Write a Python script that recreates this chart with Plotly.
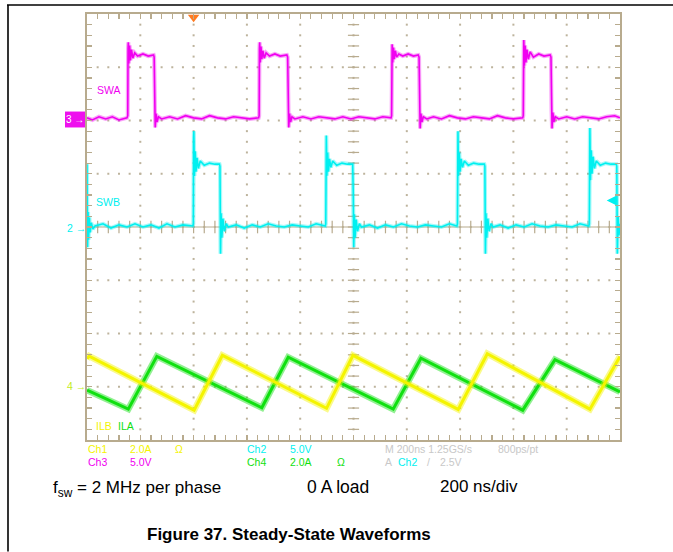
import numpy as np
import plotly.graph_objects as go

# ---------------- data read from the scope capture ----------------
# time axis: 200 ns/div, 10 div  -> 0 .. 2000 ns ; vertical: 8 div
T_DIV_NS = 200.0
N_XDIV = 10
N_YDIV = 8

# channel scale (units per div) and screen offset (div)
SWA_SCALE, SWA_OFFSET = 5.0, 2.03   # Ch3, V/div
SWB_SCALE, SWB_OFFSET = 5.0, 0.0    # Ch2, V/div
ILA_SCALE, ILA_OFFSET = 2.0, -3.0   # Ch4, A/div
ILB_SCALE, ILB_OFFSET = 2.0, -3.0   # Ch1, A/div

# SWA (Ch3) switch-node voltage, ns / V
swa_t = [0, 20, 45, 70, 95, 120, 150,
         153, 154, 155, 157, 160, 163, 167, 172, 179, 190, 210, 230, 250,
         252, 254, 256, 259, 263, 268, 280,
         310, 340, 370, 400, 430, 460, 490, 520, 550, 580, 610, 644,
         646, 647, 648, 650, 653, 656, 660, 665, 672, 685, 705, 725, 750,
         753, 755, 757, 760, 764, 769, 780,
         810, 840, 870, 900, 930, 960, 990, 1020, 1050, 1080, 1110, 1141,
         1143, 1144, 1145, 1147, 1150, 1153, 1157, 1162, 1170, 1185, 1205, 1225, 1243,
         1246, 1248, 1250, 1253, 1257, 1262, 1275,
         1300, 1330, 1360, 1390, 1420, 1450, 1480, 1510, 1540, 1570, 1600, 1635,
         1637, 1638, 1639, 1641, 1644, 1647, 1651, 1656, 1663, 1675, 1695, 1715, 1738,
         1741, 1743, 1745, 1748, 1752, 1757, 1770,
         1800, 1830, 1860, 1890, 1920, 1950, 1980, 2000]
swa_v = [0.1, -0.1, 0.2, 0.0, 0.2, -0.1, 0.1,
         0.3, 6.6, 7.2, 5.2, 6.9, 5.5, 6.5, 5.7, 6.2, 5.9, 6.1, 5.9, 6.0,
         5.8, 0.8, -0.8, 0.5, -0.3, 0.2, 0.0,
         0.2, 0.0, 0.3, 0.1, 0.0, 0.3, 0.1, 0.0, 0.2, 0.1, 0.0, 0.1,
         0.3, 6.6, 7.2, 5.3, 6.8, 5.6, 6.4, 5.7, 6.2, 5.9, 6.1, 5.9, 6.0,
         5.8, 0.8, -0.8, 0.5, -0.3, 0.2, 0.0,
         0.2, 0.0, 0.2, 0.1, 0.0, 0.2, 0.0, 0.2, 0.1, 0.0, 0.2, 0.1,
         0.3, 6.5, 7.0, 5.3, 6.7, 5.6, 6.4, 5.8, 6.1, 5.9, 6.1, 5.9, 6.0,
         5.8, 0.8, -0.9, 0.5, -0.3, 0.2, 0.0,
         0.2, 0.0, 0.3, 0.1, 0.0, 0.2, 0.1, 0.0, 0.3, 0.1, 0.0, 0.1,
         0.3, 6.8, 7.4, 5.0, 6.9, 5.3, 6.5, 5.6, 6.3, 5.8, 6.1, 5.9, 6.0,
         5.8, 0.8, -0.9, 0.6, -0.3, 0.2, 0.0,
         0.2, 0.0, 0.2, 0.1, 0.0, 0.2, 0.3, 0.1]

# SWB (Ch2) switch-node voltage, ns / V
swb_t = [0, 1, 2, 4, 6, 9, 12, 16, 22, 30,
         60, 90, 120, 150, 180, 210, 240, 270, 300, 330, 360, 397,
         399, 400, 401, 403, 406, 409, 413, 418, 425, 440, 460, 480, 497,
         499, 500, 501, 503, 506, 510, 515, 522, 530,
         560, 590, 620, 650, 680, 710, 740, 770, 800, 830, 860, 894,
         896, 897, 898, 900, 903, 906, 910, 915, 922, 937, 957, 977, 995,
         997, 999, 1001, 1003, 1006, 1010, 1015, 1022, 1030,
         1060, 1090, 1120, 1150, 1180, 1210, 1240, 1270, 1300, 1330, 1360, 1388,
         1390, 1391, 1392, 1394, 1397, 1400, 1404, 1409, 1416, 1431, 1451, 1471, 1491,
         1493, 1494, 1495, 1497, 1500, 1504, 1509, 1516, 1524,
         1550, 1580, 1610, 1640, 1670, 1700, 1730, 1760, 1790, 1820, 1850, 1883,
         1885, 1886, 1887, 1889, 1892, 1895, 1899, 1904, 1911, 1926, 1946, 1966, 1986,
         1988, 1989, 1990, 1993, 1996, 2000]
swb_v = [5.9, 2.0, -1.9, 1.4, -1.2, 0.9, -0.5, 0.4, -0.2, 0.1,
         0.3, -0.1, 0.2, 0.0, 0.3, 0.0, 0.2, -0.1, 0.3, 0.0, 0.2, 0.1,
         0.3, 8.4, 9.0, 4.8, 7.1, 5.2, 6.5, 5.5, 6.2, 5.8, 6.0, 5.9, 5.9,
         5.7, 1.0, -2.5, 1.3, -1.0, 0.8, -0.4, 0.3, 0.0,
         0.2, -0.1, 0.2, 0.0, 0.3, 0.1, 0.0, 0.2, 0.1, 0.0, 0.3, 0.1,
         0.3, 8.0, 8.6, 4.8, 7.0, 5.2, 6.4, 5.6, 6.2, 5.8, 6.0, 5.9, 5.9,
         5.9, 3.3, -1.9, 1.2, -1.0, 0.7, -0.4, 0.3, 0.0,
         0.2, -0.1, 0.2, 0.0, 0.3, 0.1, 0.0, 0.2, 0.1, 0.0, 0.3, 0.1,
         0.3, 8.4, 9.0, 4.8, 7.0, 5.2, 6.4, 5.6, 6.2, 5.8, 6.0, 5.9, 5.9,
         5.7, 1.0, -2.5, 1.3, -1.0, 0.8, -0.4, 0.3, 0.0,
         0.2, -0.1, 0.2, 0.0, 0.3, 0.1, 0.0, 0.2, 0.1, 0.0, 0.3, 0.1,
         0.3, 8.8, 9.3, 4.4, 7.2, 5.0, 6.6, 5.5, 6.2, 5.8, 6.0, 5.9, 5.9,
         5.7, 1.0, -2.5, 1.0, -0.8, 0.3]

# inductor currents, ns / A (triangle vertices)
ila_t = [0, 155, 262, 656, 755, 1149, 1253, 1635, 1756, 2000]
ila_a = [-0.13, -0.84, 1.14, -0.79, 1.11, -0.84, 1.07, -0.88, 1.02, -0.19]
ilb_t = [0, 8, 402, 508, 899, 998, 1393, 1502, 1887, 2000]
ilb_a = [1.05, 1.15, -0.88, 1.18, -0.81, 1.18, -0.85, 1.24, -0.84, 1.14]

TRIGGER_T = 400       # ns (trigger marker position)
TRIGGER_LEVEL = 2.5   # V on Ch2

# ---------------- styling ----------------
W, H = 673, 552
PL, PR, PT, PB = 87, 620, 12, 440
GRID = "#b8ab8e"
DOT = "#bdb39c"
C_MAG = "#f000f0"
C_CYN = "#00f0f0"
C_YEL = "#f4f400"
C_GRN = "#10e010"
C_GRAY = "#c8c8c8"
SCOPE_FONT = "Liberation Sans, Arial, sans-serif"
CAP_FONT = "Liberation Sans, Arial, Helvetica, sans-serif"


def px(x):
    return (x - PL) / (PR - PL)


def py(y):
    return (PB - y) / (PB - PT)


def to_div(vals, scale, offset):
    return [offset + v / scale for v in vals]


fig = go.Figure()

# dotted graticule
xmaj = [T_DIV_NS * i for i in range(1, N_XDIV)]
ymaj = [j - N_YDIV / 2 for j in range(1, N_YDIV)]
yminor = np.arange(-N_YDIV / 2 + 0.2, N_YDIV / 2 - 0.1, 0.2)
xminor = np.arange(T_DIV_NS / 5, T_DIV_NS * N_XDIV - 1, T_DIV_NS / 5)
gx, gy = [], []
for xv in xmaj:
    gx += [xv] * len(yminor)
    gy += list(yminor)
for yv in ymaj:
    gx += list(xminor)
    gy += [yv] * len(xminor)
fig.add_trace(go.Scatter(x=gx, y=gy, mode="markers", hoverinfo="skip",
                         marker=dict(symbol="square", size=2, color=DOT, line=dict(width=0))))

# centre cross-hair ticks
xc = T_DIV_NS * N_XDIV / 2
fig.add_trace(go.Scatter(x=list(xminor), y=[0] * len(xminor), mode="markers", hoverinfo="skip",
                         marker=dict(symbol="line-ns", size=9, line=dict(color=GRID, width=1.2))))
fig.add_trace(go.Scatter(x=[xc] * len(yminor), y=list(yminor), mode="markers", hoverinfo="skip",
                         marker=dict(symbol="line-ew", size=8, line=dict(color=GRID, width=1.2))))
fig.add_shape(type="line", x0=0, x1=T_DIV_NS * N_XDIV, y0=0, y1=0,
              line=dict(color=GRID, width=1.2), layer="below")


def add_wave(t, y, color, core, band, band_op):
    fig.add_trace(go.Scatter(x=t, y=y, mode="lines", hoverinfo="skip", opacity=band_op,
                             line=dict(color=color, width=band)))
    fig.add_trace(go.Scatter(x=t, y=y, mode="lines", hoverinfo="skip",
                             line=dict(color=color, width=core)))


add_wave(ila_t, to_div(ila_a, ILA_SCALE, ILA_OFFSET), C_GRN, 3, 6.5, 0.45)
add_wave(ilb_t, to_div(ilb_a, ILB_SCALE, ILB_OFFSET), C_YEL, 3, 6.5, 0.45)
add_wave(swa_t, to_div(swa_v, SWA_SCALE, SWA_OFFSET), C_MAG, 1.6, 4, 0.35)
add_wave(swb_t, to_div(swb_v, SWB_SCALE, SWB_OFFSET), C_CYN, 1.6, 4, 0.35)

# trigger position marker
fig.add_trace(go.Scatter(x=[TRIGGER_T], y=[3.94], mode="markers", hoverinfo="skip", cliponaxis=False,
                         marker=dict(symbol="triangle-down", size=10, color="#ff7a20", line=dict(width=0))))

annotations = []


def label(text, x, y, color, size=10.5, anchor="left", font=SCOPE_FONT, **kw):
    annotations.append(dict(text=text, x=px(x), y=py(y), xref="paper", yref="paper",
                            xanchor=anchor, yanchor="middle", showarrow=False,
                            font=dict(family=font, size=size, color=color), **kw))


# trace labels
label("SWA", 95, 88, C_MAG)
label("SWB", 94, 201, C_CYN)
label("ILB", 94, 426, C_YEL)
label("ILA", 116, 426, C_GRN)

# channel ground markers
label("3 <b>→</b>", 86, 118, "white", size=10, anchor="right")
label("2 <b>→</b>", 88, 227, C_CYN, size=10.5, anchor="right")
label("4 <b>→</b>", 88, 386, "#c4ec20", size=10.5, anchor="right")

# trigger level arrow (right edge, Ch2 level)
annotations.append(dict(x=T_DIV_NS * N_XDIV - 50, y=SWB_OFFSET + TRIGGER_LEVEL / SWB_SCALE,
                        xref="x", yref="y", text="", showarrow=True, arrowhead=2,
                        arrowsize=1, arrowwidth=2, arrowcolor=C_CYN, ax=12, ay=0,
                        standoff=0, startstandoff=0))

# scope read-out
r1, r2 = 449, 462
label("Ch1", 86, r1, C_YEL)
label("2.0A", 128, r1, C_YEL)
label("Ω", 173, r1, C_YEL)
label("Ch2", 245, r1, C_CYN)
label("5.0V", 288, r1, C_CYN)
label("M 200ns 1.25GS/s", 383, r1, C_GRAY)
label("800ps/pt", 496, r1, C_GRAY)
label("Ch3", 86, r2, C_MAG)
label("5.0V", 128, r2, C_MAG)
label("Ch4", 245, r2, C_GRN)
label("2.0A", 288, r2, C_GRN)
label("Ω", 335, r2, C_GRN)
label("A", 383, r2, C_GRAY)
label("Ch2", 396, r2, C_CYN)
label("/", 425, r2, C_GRAY)
label("2.5V", 438, r2, C_GRAY)

# caption
label("f<sub>sw</sub> = 2 MHz per phase", 51, 489, "black", size=17, font=CAP_FONT)
label("0 A load", 305, 487, "black", size=17.5, font=CAP_FONT)
label("200 ns/div", 438, 487, "black", size=17, font=CAP_FONT)
label("<b>Figure 37. Steady-State Waveforms</b>", 288.5, 535, "black", size=17,
      anchor="center", font=CAP_FONT)

shapes = [
    # magenta ch3 marker box
    dict(type="rect", xref="paper", yref="paper", x0=px(65), x1=px(86), y0=py(126), y1=py(110),
         fillcolor="#ee10ee", line=dict(width=0), layer="below"),
    # page frame lines
    dict(type="line", xref="paper", yref="paper", x0=px(7), x1=px(673), y0=py(3), y1=py(3),
         line=dict(color="black", width=1.6)),
    dict(type="line", xref="paper", yref="paper", x0=px(8), x1=px(8), y0=py(3), y1=py(552),
         line=dict(color="black", width=1.6)),
]
for s in shapes:
    fig.add_shape(**s)

axis_common = dict(showgrid=False, zeroline=False, showticklabels=False, ticks="inside",
                   ticklen=5, tickwidth=1.2, tickcolor=GRID, showline=True, linecolor=GRID,
                   linewidth=2, mirror="ticks", fixedrange=True)
fig.update_layout(
    width=W, height=H, margin=dict(l=PL, r=W - PR, t=PT, b=H - PB),
    paper_bgcolor="white", plot_bgcolor="white", showlegend=False,
    hovermode=False,
    xaxis=dict(range=[0, T_DIV_NS * N_XDIV], tick0=0, dtick=T_DIV_NS / 5, **axis_common),
    yaxis=dict(range=[-N_YDIV / 2, N_YDIV / 2], tick0=0, dtick=0.2, **axis_common),
    annotations=annotations,
)

# remove the default 8px page margin so the figure sits at the window origin
fig.write_html("out.html",
               config={"displayModeBar": False, "staticPlot": True},
               post_script="document.body.style.margin='0';document.body.style.overflow='hidden';")
